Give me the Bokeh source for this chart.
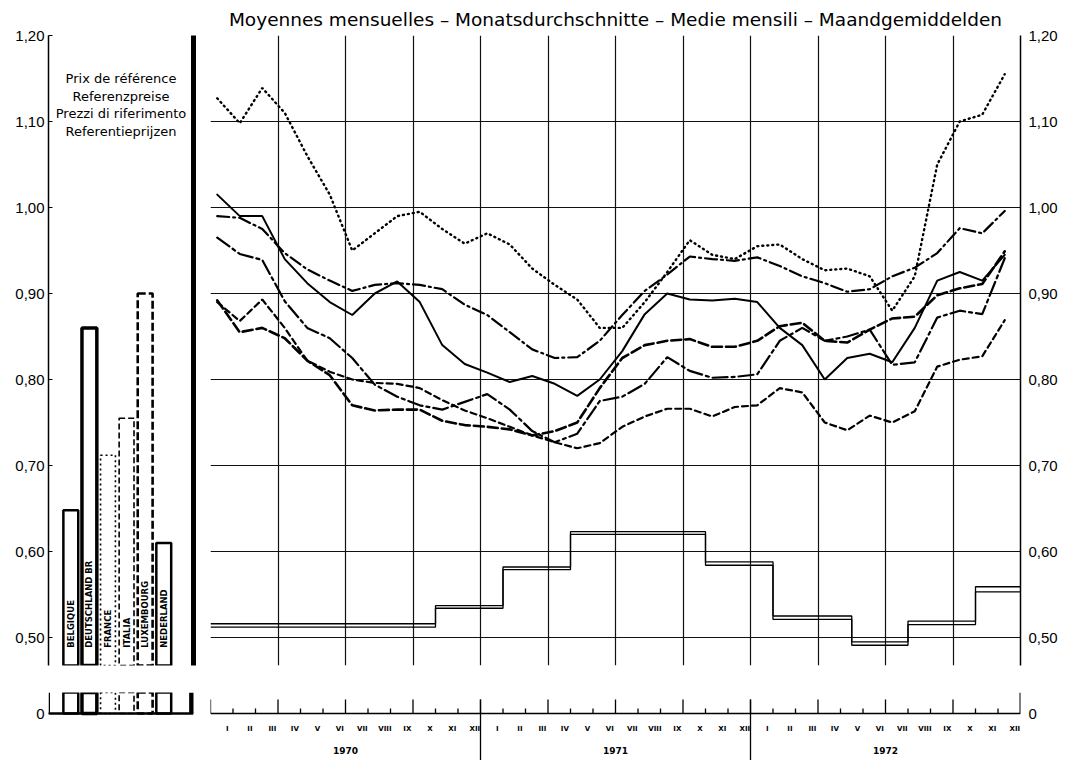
import math
from bokeh.plotting import figure
from bokeh.layouts import row, column
from bokeh.models import Range1d, FixedTicker, LinearAxis, Title, Span, Grid, Label
from bokeh.embed import file_html
from bokeh.resources import INLINE
from bokeh.core.properties import value

# ---------------- data ----------------
countries = ["BELGIQUE", "DEUTSCHLAND BR", "FRANCE", "ITALIA", "LUXEMBOURG", "NEDERLAND"]
ref_bar_values = [0.648, 0.860, 0.712, 0.755, 0.900, 0.610]

month_labels = ["I", "II", "III", "IV", "V", "VI", "VII", "VIII", "IX", "X", "XI", "XII"]
years = ["1970", "1971", "1972"]

price_dotted = [1.127, 1.098, 1.139, 1.110, 1.060, 1.015, 0.950, 0.970, 0.990, 0.995, 0.975, 0.958,
                0.970, 0.957, 0.929, 0.910, 0.893, 0.860, 0.860, 0.890, 0.925, 0.962, 0.945, 0.940,
                0.955, 0.957, 0.940, 0.927, 0.929, 0.920, 0.880, 0.920, 1.050, 1.100, 1.108, 1.155]
price_dashdot = [0.990, 0.988, 0.975, 0.947, 0.928, 0.915, 0.903, 0.910, 0.912, 0.910, 0.905, 0.887,
                 0.875, 0.855, 0.835, 0.825, 0.826, 0.845, 0.875, 0.903, 0.922, 0.943, 0.940, 0.938,
                 0.942, 0.932, 0.920, 0.912, 0.902, 0.905, 0.920, 0.930, 0.947, 0.976, 0.970, 0.996]
price_solid = [1.015, 0.990, 0.990, 0.940, 0.912, 0.890, 0.875, 0.900, 0.914, 0.890, 0.840, 0.818,
               0.808, 0.797, 0.804, 0.795, 0.781, 0.800, 0.833, 0.876, 0.900, 0.893, 0.892, 0.894,
               0.890, 0.860, 0.840, 0.800, 0.825, 0.830, 0.820, 0.860, 0.915, 0.925, 0.915, 0.945]
price_longdashdot = [0.965, 0.946, 0.939, 0.891, 0.860, 0.848, 0.825, 0.794, 0.780, 0.770, 0.765, 0.774,
                     0.783, 0.765, 0.740, 0.727, 0.737, 0.775, 0.780, 0.795, 0.826, 0.810, 0.802, 0.803,
                     0.806, 0.845, 0.860, 0.845, 0.850, 0.858, 0.817, 0.820, 0.872, 0.880, 0.876, 0.941]
price_heavydash = [0.892, 0.855, 0.860, 0.848, 0.822, 0.805, 0.770, 0.764, 0.765, 0.765, 0.752, 0.747,
                   0.745, 0.742, 0.735, 0.740, 0.750, 0.790, 0.825, 0.840, 0.845, 0.847, 0.838, 0.838,
                   0.845, 0.862, 0.866, 0.845, 0.843, 0.858, 0.871, 0.873, 0.898, 0.906, 0.911, 0.949]
price_shortdash = [0.890, 0.868, 0.893, 0.860, 0.822, 0.809, 0.800, 0.796, 0.795, 0.790, 0.776, 0.764,
                   0.755, 0.745, 0.735, 0.727, 0.720, 0.726, 0.745, 0.757, 0.766, 0.766, 0.757, 0.768,
                   0.770, 0.790, 0.785, 0.750, 0.741, 0.758, 0.750, 0.763, 0.815, 0.823, 0.827, 0.869]

# reference prices (step series): month at which each level starts
ref_change_month = [0, 10, 13, 16, 22, 25, 28.5, 31, 34]
ref_upper = [0.516, 0.537, 0.582, 0.623, 0.588, 0.525, 0.495, 0.519, 0.559]
ref_lower = [0.512, 0.534, 0.579, 0.620, 0.584, 0.521, 0.491, 0.515, 0.553]

y_ticks = [0.5, 0.6, 0.7, 0.8, 0.9, 1.0, 1.1, 1.2]

# ---------------- layout constants ----------------
PX = 860.0                   # pixels per 1.00 of price
TOP_H = 668
TOP_BORDER = 35
TOP_BOTTOM_BORDER = 3
frame_h = TOP_H - TOP_BORDER - TOP_BOTTOM_BORDER
Y_TOP = 1.20
Y_BOT = Y_TOP - frame_h / PX

BOT_H = 92
BOT_BORDER = 24
strip_top = 21 / PX
strip_bot = strip_top - (BOT_H - BOT_BORDER) / PX

n_months = 12 * len(years)
tick_labels = {t: f"{t:.2f}".replace(".", ",") for t in y_ticks}
AXFONT = "Liberation Sans"
LX0, LX1 = -0.2, 7.6


def hide_default_grids(p):
    for g in p.center:
        if isinstance(g, Grid):
            g.visible = False


def bare_axis(**kw):
    base = dict(major_tick_in=0, major_tick_out=0, minor_tick_out=0, minor_tick_in=0,
                major_label_text_color="black", major_label_text_font=AXFONT,
                major_label_text_font_size="15px", axis_line_color="black",
                major_tick_line_color="black")
    base.update(kw)
    return LinearAxis(**base)


# ================= main chart (top) =================
mt = figure(width=870, height=TOP_H, x_range=Range1d(0, n_months), y_range=Range1d(Y_BOT, Y_TOP),
            output_backend="svg", toolbar_location=None, x_axis_location=None, y_axis_location=None,
            min_border_left=10, min_border_right=50, min_border_top=TOP_BORDER,
            min_border_bottom=TOP_BOTTOM_BORDER, outline_line_color=None)
hide_default_grids(mt)
mt.add_layout(Title(text="Moyennes mensuelles – Monatsdurchschnitte – Medie mensili – Maandgemiddelden",
                    align="center", text_font="DejaVu Sans", text_font_size="18.5px",
                    text_font_style="normal", text_color="black", standoff=12), "above")

quarters = list(range(0, n_months + 1, 3))
mt.add_layout(Grid(dimension=0, ticker=FixedTicker(ticks=quarters), grid_line_color="#111",
                   grid_line_width=1.2))
mt.add_layout(Grid(dimension=1, ticker=FixedTicker(ticks=y_ticks), grid_line_color="#111",
                   grid_line_width=1.2))

mt.add_layout(bare_axis(ticker=FixedTicker(ticks=y_ticks), major_label_overrides=tick_labels,
                        axis_line_width=1.5, major_label_standoff=8), "right")

month_x = [i + 0.3 for i in range(n_months)]
series = [
    (price_dotted, "1 4", 2.4),
    (price_dashdot, "12 4 2 4", 2.2),
    (price_solid, "solid", 2.0),
    (price_longdashdot, "15 4 3 4", 2.2),
    (price_heavydash, "10 4", 2.6),
    (price_shortdash, "6 4", 2.2),
]
for vals, dash, w in series:
    mt.line(month_x, vals, line_color="black", line_width=w, line_dash=dash, line_cap="round")

edges = ref_change_month + [n_months]
mt.step(edges, ref_upper + [ref_upper[-1]], mode="after", line_color="black", line_width=1.3)
mt.step(edges, ref_lower + [ref_lower[-1]], mode="after", line_color="black", line_width=1.3)

# ================= main chart (bottom strip: months) =================
mb = figure(width=870, height=BOT_H, x_range=mt.x_range, y_range=Range1d(strip_bot, strip_top),
            output_backend="svg", toolbar_location=None, x_axis_location=None, y_axis_location=None,
            min_border_left=10, min_border_right=50, min_border_top=BOT_BORDER, min_border_bottom=0,
            outline_line_color=None)
hide_default_grids(mb)
mb.add_layout(bare_axis(ticker=FixedTicker(ticks=[0]), major_label_overrides={0: "0"},
                        axis_line_color=None, major_label_standoff=8), "right")
mb.add_layout(Span(location=0, dimension="width", line_color="black", line_width=1.6))

all_months = list(range(1, n_months + 1))
small = [m for m in all_months if m % 3 != 0]
mb.segment(x0=small, y0=[0] * len(small), x1=small, y1=[5 / PX] * len(small),
           line_color="black", line_width=1.3)
inner_q = quarters[:-1]
mb.segment(x0=inner_q, y0=[0] * len(inner_q), x1=inner_q, y1=[14 / PX] * len(inner_q),
           line_color="black", line_width=1.3)
mb.segment(x0=[n_months], y0=[0], x1=[n_months], y1=[strip_top], line_color="black", line_width=2)
mb.text(x=[m - 0.25 for m in all_months], y=[-15 / PX] * n_months,
        text=month_labels * len(years), text_align="center", text_baseline="middle",
        text_font=value("DejaVu Sans"), text_font_size="7px", text_font_style="bold",
        text_color="black")
seps = [12 * (k + 1) for k in range(len(years) - 1)]
mb.segment(x0=seps, y0=[14 / PX] * len(seps), x1=seps, y1=[strip_bot] * len(seps),
           line_color="black", line_width=1.3)
mb.text(x=[12 * k + 6 for k in range(len(years))], y=[-37 / PX] * len(years), text=years,
        text_align="center", text_baseline="middle", text_font=value("DejaVu Sans"),
        text_font_size="9px", text_font_style="bold", text_color="black")

# ================= left panel (reference bars) =================
bar_x = [i + 1 for i in range(len(countries))]
bar_styles = [("solid", 2.5), ("solid", 3.5), ("2 3", 1.6), ("6 3", 1.6), ("8 3", 2.6), ("solid", 2.5)]

lt = figure(width=200, height=TOP_H, x_range=Range1d(LX0, LX1), y_range=mt.y_range,
            output_backend="svg", toolbar_location=None, x_axis_location=None, y_axis_location=None,
            min_border_left=48, min_border_right=7, min_border_top=TOP_BORDER,
            min_border_bottom=TOP_BOTTOM_BORDER, outline_line_color=None)
hide_default_grids(lt)
lt.add_layout(bare_axis(ticker=FixedTicker(ticks=y_ticks), major_label_overrides=tick_labels,
                        major_tick_in=4, axis_line_width=1.5, major_label_standoff=4), "left")
lt.add_layout(bare_axis(ticker=FixedTicker(ticks=[]), axis_line_width=5,
                        major_label_text_font_size="0px"), "right")
lt.add_layout(Grid(dimension=1, ticker=FixedTicker(ticks=[1.2]), grid_line_color="black",
                   grid_line_width=1.2, grid_line_dash="5 2"))
for xx, v, (dash, w) in zip(bar_x, ref_bar_values, bar_styles):
    lt.vbar(x=[xx], top=[v], bottom=[0], width=0.8, fill_color="white", line_color="black",
            line_width=w, line_dash=dash)
lt.text(x=bar_x, y=[0.488] * len(bar_x), text=countries, angle=math.pi / 2, text_align="left",
        text_baseline="middle", text_font=value("DejaVu Sans"), text_font_size="8.5px",
        text_font_style="bold", text_color="black")
heads = ["Prix de référence", "Referenzpreise", "Prezzi di riferimento", "Referentieprijzen"]
for k, h in enumerate(heads):
    lt.add_layout(Label(x=(LX0 + LX1) / 2, y=1.150 - k * 0.0205, text=h, text_align="center",
                        text_baseline="middle", text_font="DejaVu Sans", text_font_size="13px",
                        text_color="black"))

lb = figure(width=200, height=BOT_H, x_range=lt.x_range, y_range=Range1d(strip_bot, strip_top),
            output_backend="svg", toolbar_location=None, x_axis_location=None, y_axis_location=None,
            min_border_left=48, min_border_right=7, min_border_top=BOT_BORDER, min_border_bottom=0,
            outline_line_color=None)
hide_default_grids(lb)
lb.add_layout(bare_axis(ticker=FixedTicker(ticks=[0]), major_label_overrides={0: "0"},
                        major_tick_in=4, axis_line_color=None, major_label_standoff=4), "left")
for xx, v, (dash, w) in zip(bar_x, ref_bar_values, bar_styles):
    lb.vbar(x=[xx], top=[v], bottom=[0], width=0.8, fill_color="white", line_color="black",
            line_width=w, line_dash=dash)
lb.segment(x0=[LX0], y0=[0], x1=[LX1], y1=[0], line_color="black", line_width=2.5)
lb.segment(x0=[LX0 + 0.04], y0=[0], x1=[LX0 + 0.04], y1=[strip_top], line_color="black", line_width=1.5)
lb.segment(x0=[LX1 - 0.1], y0=[0], x1=[LX1 - 0.1], y1=[strip_top], line_color="black", line_width=5)

layout = column(row(lt, mt), row(lb, mb))
open("out.html", "w").write(file_html(layout, INLINE))
